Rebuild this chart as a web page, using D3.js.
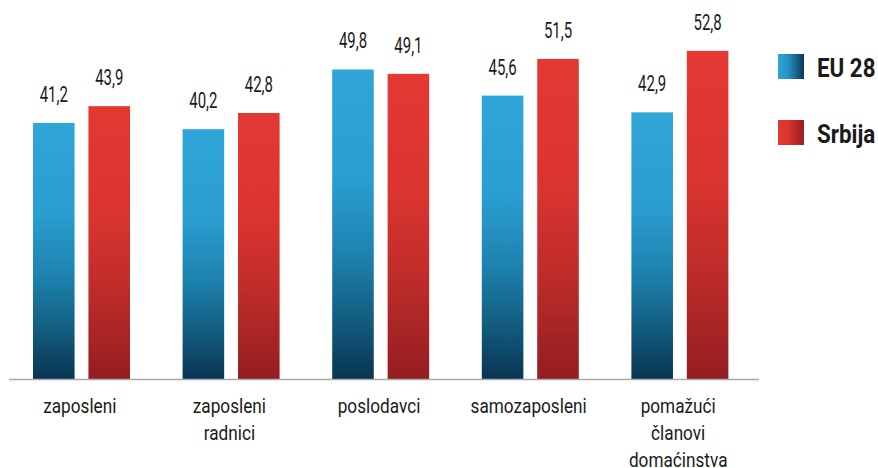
<!DOCTYPE html>
<html>
<head>
<meta charset="utf-8">
<script src="https://cdn.jsdelivr.net/npm/d3@7"></script>
<style>
  html, body { margin: 0; padding: 0; background: #fff; }
  svg { display: block; }
  text { font-family: Roboto, "Noto Sans", sans-serif; fill: #1a1a1a; }
</style>
</head>
<body>
<svg id="chart" width="878" height="468"></svg>
<script>
// Categories (x axis), one line per array entry
const categories = [
  ["zaposleni"],
  ["zaposleni", "radnici"],
  ["poslodavci"],
  ["samozaposleni"],
  ["pomažući", "članovi", "domaćinstva"]
];
const seriesNames = ["EU 28", "Srbija"];
const eu28   = [41.2, 40.2, 49.8, 45.6, 42.9];
const srbija = [43.9, 42.8, 49.1, 51.5, 52.8];

const fmt = v => v.toFixed(1).replace(".", ",");

const svg = d3.select("#chart");
const baseY = 379;

const x0 = d3.scaleBand().domain(d3.range(categories.length)).range([7, 755]);
const x1 = d3.scaleBand().domain([0, 1]).range([26, 123]).paddingInner(0.25);
const y = d3.scaleLinear().domain([0, 60]).range([baseY, baseY - 60 * 6.215]);

// Bar and legend gradients
const defs = svg.append("defs");
const gradStops = [
  [[0, "#2fa5d8"], [0.35, "#2b9ed1"], [0.6, "#1d82af"], [0.82, "#125a7d"], [1, "#093453"]],
  [[0, "#e43833"], [0.4, "#da3430"], [0.7, "#bb2b29"], [1, "#941d21"]]
];
gradStops.forEach((stops, i) => {
  const g = defs.append("linearGradient").attr("id", "bar" + i)
    .attr("x1", 0).attr("y1", 0).attr("x2", 0).attr("y2", 1);
  stops.forEach(s => g.append("stop").attr("offset", s[0]).attr("stop-color", s[1]));
  const lg = defs.append("linearGradient").attr("id", "leg" + i)
    .attr("x1", 0).attr("y1", 0).attr("x2", 1).attr("y2", 0);
  const ls = i === 0 ? [[0, "#2fa5d8"], [0.4, "#2690c0"], [1, "#0a3858"]] : [[0, "#e43833"], [0.4, "#d7332f"], [1, "#991e22"]];
  ls.forEach(s => lg.append("stop").attr("offset", s[0]).attr("stop-color", s[1]));
});

const data = categories.map((c, i) => ({ i, values: [eu28[i], srbija[i]] }));

const groups = svg.append("g").selectAll("g").data(data).join("g")
  .attr("transform", d => `translate(${x0(d.i)},0)`);

groups.selectAll("rect").data(d => d.values.map((v, k) => ({ v, k })))
  .join("rect")
  .attr("x", d => x1(d.k))
  .attr("width", x1.bandwidth())
  .attr("y", d => y(d.v))
  .attr("height", d => y(0) - y(d.v))
  .attr("fill", d => `url(#bar${d.k})`);

// Value labels above bars
groups.selectAll("g.val").data(d => d.values.map((v, k) => ({ v, k })))
  .join("g").attr("class", "val")
  .attr("transform", d => `translate(${x1(d.k) + x1.bandwidth() / 2},${y(d.v) - 21}) scale(0.68,1)`)
  .append("text")
  .attr("text-anchor", "middle")
  .style("font-size", "22px")
  .text(d => fmt(d.v));

// Baseline
svg.append("line").attr("x1", 9).attr("x2", 759).attr("y1", baseY + 0.5).attr("y2", baseY + 0.5)
  .attr("stroke", "#aaaaaa").attr("stroke-width", 1.5);

// Category labels
groups.each(function(d) {
  const g = d3.select(this);
  categories[d.i].forEach((line, li) => {
    g.append("g")
      .attr("transform", `translate(${x0.bandwidth() / 2 - 2},${413 + li * 27}) scale(0.86,1)`)
      .append("text").attr("text-anchor", "middle")
      .style("font-size", "20px")
      .text(line);
  });
});

// Legend
const legend = svg.append("g").selectAll("g").data(seriesNames).join("g")
  .attr("transform", (d, i) => `translate(778,${54 + i * 66})`);
legend.append("rect").attr("width", 26).attr("height", 25).attr("fill", (d, i) => `url(#leg${i})`);
legend.append("g").attr("transform", "translate(39,23) scale(0.86,1)")
  .append("text").style("font-size", "26px").style("font-weight", 700).text(d => d);
</script>
</body>
</html>
